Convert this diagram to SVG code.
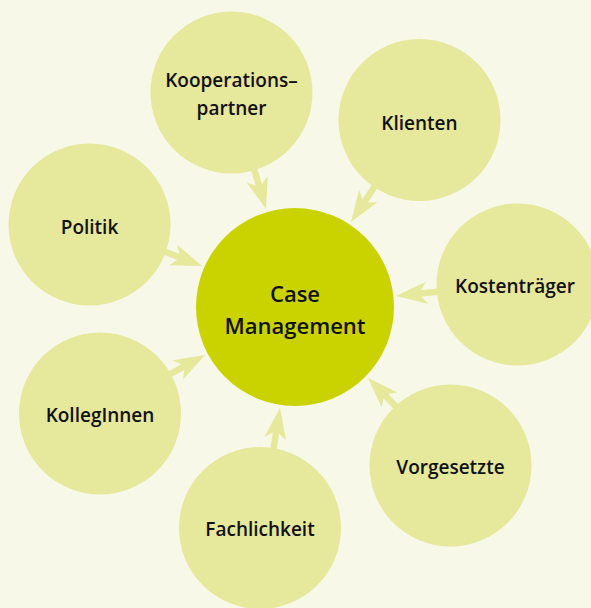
<svg xmlns="http://www.w3.org/2000/svg" width="591" height="608" viewBox="0 0 591 608">
  <defs>
    <style>
      .bg { fill: #f7f8e7; }
      .outer { fill: #e6e89b; }
      .core { fill: #cad300; }
      .arrow { fill: #e6e89b; }
      text { font-family: "Open Sans", "Noto Sans", "DejaVu Sans", sans-serif; font-weight: 600; fill: #111; text-anchor: middle; }
      .lbl { font-size: 19px; }
      .big { font-size: 22px; }
    </style>
    <!-- notched arrow, tip at origin pointing along +x -->
    <g id="arrowShape">
      <rect x="-48" y="-3.2" width="28" height="6.4"/>
      <polygon points="0,0 -31,-11 -23,0 -31,11"/>
    </g>
  </defs>

  <rect class="bg" x="0" y="0" width="591" height="608"/>

  <g id="connectors" class="arrow">
    <use href="#arrowShape" transform="translate(266,209) rotate(73.5)"/>
    <use href="#arrowShape" transform="translate(351,222) rotate(123.7)"/>
    <use href="#arrowShape" transform="translate(202,266) rotate(21)"/>
    <use href="#arrowShape" transform="translate(396,296) rotate(174.2)"/>
    <use href="#arrowShape" transform="translate(368,378) rotate(225.6)"/>
    <use href="#arrowShape" transform="translate(280,408) rotate(-81)"/>
    <use href="#arrowShape" transform="translate(205,355) rotate(-28.6)"/>
  </g>

  <g id="kooperationspartner">
    <circle class="outer" cx="231.5" cy="92.5" r="81"/>
    <text class="lbl" x="231.5" y="87">Kooperations–</text>
    <text class="lbl" x="231.5" y="115">partner</text>
  </g>

  <g id="klienten">
    <circle class="outer" cx="419.5" cy="120" r="81"/>
    <text class="lbl" x="419.5" y="130">Klienten</text>
  </g>

  <g id="politik">
    <circle class="outer" cx="89.5" cy="224.5" r="81"/>
    <text class="lbl" x="89.5" y="234">Politik</text>
  </g>

  <g id="kostentraeger">
    <circle class="outer" cx="517.5" cy="284.5" r="81"/>
    <text class="lbl" x="515" y="293">Kostenträger</text>
  </g>

  <g id="kolleginnen">
    <circle class="outer" cx="100" cy="413.5" r="81"/>
    <text class="lbl" x="100" y="422">KollegInnen</text>
  </g>

  <g id="vorgesetzte">
    <circle class="outer" cx="450.5" cy="465.5" r="81"/>
    <text class="lbl" x="450.5" y="474">Vorgesetzte</text>
  </g>

  <g id="fachlichkeit">
    <circle class="outer" cx="260" cy="528" r="81"/>
    <text class="lbl" x="260" y="536">Fachlichkeit</text>
  </g>

  <g id="case-management">
    <circle class="core" cx="295" cy="307" r="99"/>
    <text class="big" x="295" y="302">Case</text>
    <text class="big" x="295" y="334">Management</text>
  </g>
</svg>
